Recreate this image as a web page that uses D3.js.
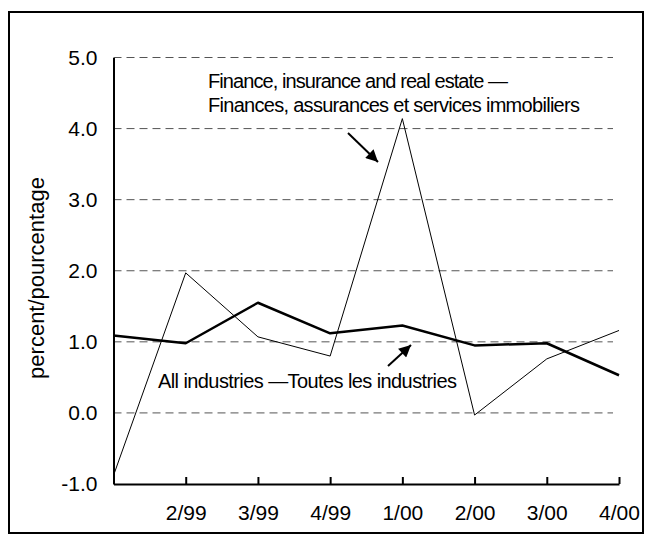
<!DOCTYPE html>
<html>
<head>
<meta charset="utf-8">
<script src="https://cdn.jsdelivr.net/npm/d3@7"></script>
<style>
  body { margin: 0; background: #fff; }
  text { font-family: "Liberation Sans", Arial, sans-serif; fill: #000; }
</style>
</head>
<body>
<div id="chart"></div>
<script>
// quarters (first one has no label on the axis)
const categories = ["1/99", "2/99", "3/99", "4/99", "1/00", "2/00", "3/00", "4/00"]
const allIndustries = [1.09, 0.98, 1.55, 1.12, 1.23, 0.95, 0.98, 0.53]
const finance = [-0.88, 1.97, 1.07, 0.80, 4.14, -0.03, 0.76, 1.16]
const yTicks = [-1, 0, 1, 2, 3, 4, 5]

const width = 647
const height = 536

const svg = d3.select("#chart")
              .append("svg")
              .attr("width", width)
              .attr("height", height)

// outer frame
svg.append("rect")
   .attr("x", 9)
   .attr("y", 12)
   .attr("width", 634)
   .attr("height", 521)
   .attr("fill", "none")
   .attr("stroke", "#000")
   .attr("stroke-width", 2)

const xScale = d3.scalePoint()
                 .domain(categories)
                 .range([113.5, 619])

const yScale = d3.scaleLinear()
                 .domain([-1, 5])
                 .range([484, 57.5])

// dashed gridlines
svg.append("g")
   .selectAll("line")
   .data(yTicks.filter(d => d > -1))
   .enter()
   .append("line")
   .attr("x1", xScale.range()[0])
   .attr("x2", 613)
   .attr("y1", d => yScale(d))
   .attr("y2", d => yScale(d))
   .attr("stroke", "#555")
   .attr("stroke-width", 1)
   .attr("stroke-dasharray", "8,5")

// y axis (plain hyphen for the minus sign)
const yAxis = d3.axisLeft(yScale)
                .tickValues(yTicks)
                .tickFormat(d => d.toFixed(1))
                .tickSize(0)
                .tickPadding(16)

const gy = svg.append("g")
              .attr("transform", "translate(113.5,0)")
              .call(yAxis)
gy.select(".domain").attr("stroke", "#000").attr("stroke-width", 2)
gy.selectAll("text").style("font-size", "21px")
  .style("font-family", "'Liberation Sans', Arial, sans-serif")

// x axis, ticks point inward
const xAxis = d3.axisBottom(xScale)
                .tickSizeInner(-7)
                .tickSizeOuter(0)
                .tickPadding(21)
                .tickFormat((d, i) => i === 0 ? "" : d)

const gx = svg.append("g")
              .attr("transform", "translate(0,484)")
              .call(xAxis)
gx.select(".domain").attr("stroke", "#000").attr("stroke-width", 2)
gx.selectAll(".tick line").attr("stroke", "#000").attr("stroke-width", 2)
gx.selectAll("text").style("font-size", "21px")
  .style("font-family", "'Liberation Sans', Arial, sans-serif")

// y axis title
svg.append("text")
   .attr("transform", "translate(44,278) rotate(-90)")
   .attr("text-anchor", "middle")
   .style("font-size", "22px")
   .text("percent/pourcentage")

// series
const line = d3.line()
               .x((d, i) => xScale(categories[i]))
               .y(d => yScale(d))

svg.append("path")
   .datum(finance)
   .attr("d", line)
   .attr("fill", "none")
   .attr("stroke", "#000")
   .attr("stroke-width", 1)

svg.append("path")
   .datum(allIndustries)
   .attr("d", line)
   .attr("fill", "none")
   .attr("stroke", "#000")
   .attr("stroke-width", 2.5)
   .attr("stroke-linejoin", "round")

// annotations
svg.append("defs")
   .append("marker")
   .attr("id", "head")
   .attr("viewBox", "0 0 10 10")
   .attr("refX", 10)
   .attr("refY", 5)
   .attr("markerUnits", "userSpaceOnUse")
   .attr("markerWidth", 14)
   .attr("markerHeight", 12)
   .attr("orient", "auto")
   .append("path")
   .attr("d", "M0,0 L10,5 L0,10 Z")
   .attr("fill", "#000")

svg.append("line")
   .attr("x1", 348).attr("y1", 133)
   .attr("x2", 378).attr("y2", 162)
   .attr("stroke", "#000")
   .attr("stroke-width", 2)
   .attr("marker-end", "url(#head)")

svg.append("line")
   .attr("x1", 388).attr("y1", 366)
   .attr("x2", 411).attr("y2", 345)
   .attr("stroke", "#000")
   .attr("stroke-width", 2)
   .attr("marker-end", "url(#head)")

svg.append("text")
   .attr("x", 208).attr("y", 88)
   .attr("textLength", 300)
   .attr("lengthAdjust", "spacing")
   .style("font-size", "20px")
   .text("Finance, insurance and real estate \u2014")

svg.append("text")
   .attr("x", 208).attr("y", 112)
   .attr("textLength", 372)
   .attr("lengthAdjust", "spacing")
   .style("font-size", "20px")
   .text("Finances, assurances et services immobiliers")

svg.append("text")
   .attr("x", 158).attr("y", 388)
   .attr("textLength", 299)
   .attr("lengthAdjust", "spacing")
   .style("font-size", "20px")
   .text("All industries \u2014Toutes les industries")
</script>
</body>
</html>
